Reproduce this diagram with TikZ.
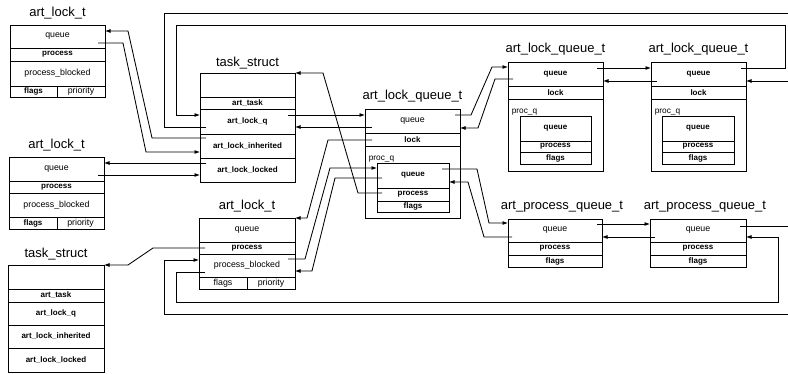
\documentclass[tikz,border=0pt]{standalone}
\usepackage{fontspec}
\setmainfont{Liberation Sans}
\usetikzlibrary{arrows.meta,calc}
\tikzset{
  fld/.style={draw, line width=0.9pt, inner sep=0pt, outer sep=0pt, anchor=north west,
    font=\fontsize{8.8}{10}\selectfont},
  fldb/.style={fld, font=\fontsize{8}{9}\selectfont\bfseries},
  ttl/.style={anchor=base, inner sep=0pt, font=\fontsize{13}{15}\selectfont},
  lbl/.style={anchor=south west, inner sep=0.6pt, font=\fontsize{8.3}{9}\selectfont},
  wire/.style={line width=0.85pt},
  arr/.style={wire, -{Latex[length=5.5pt,width=4pt]}}
}
\begin{document}
\begin{tikzpicture}[x=1pt,y=-1pt]
\useasboundingbox (0,0) rectangle (788,374);

% ---- art_lock_t (top left)
\node[ttl] (a1t) at (57.5,17) {art\_lock\_t};
\node[fld,minimum width=95,minimum height=23] (a1q) at (10,25) {queue};
\node[fldb,minimum width=95,minimum height=13] (a1p) at (10,48) {process};
\node[fld,minimum width=95,minimum height=25] (a1b) at (10,61) {process\_blocked};
\node[fldb,minimum width=47,minimum height=11] (a1f) at (10,86) {flags};
\node[fld,minimum width=48,minimum height=11] (a1r) at (57,86) {priority};

% ---- art_lock_t (middle left)
\node[ttl] (a2t) at (56.5,149) {art\_lock\_t};
\node[fld,minimum width=95,minimum height=24] (a2q) at (9,157) {queue};
\node[fldb,minimum width=95,minimum height=12] (a2p) at (9,181) {process};
\node[fld,minimum width=95,minimum height=24] (a2b) at (9,193) {process\_blocked};
\node[fldb,minimum width=48,minimum height=12] (a2f) at (9,217) {flags};
\node[fld,minimum width=47,minimum height=12] (a2r) at (57,217) {priority};

% ---- task_struct (bottom left)
\node[ttl] (t2t) at (56,258) {task\_struct};
\node[fld,minimum width=96,minimum height=24] (t2e) at (8,265) {};
\node[fldb,minimum width=96,minimum height=13] (t2a) at (8,289) {art\_task};
\node[fldb,minimum width=96,minimum height=23] (t2q) at (8,302) {art\_lock\_q};
\node[fldb,minimum width=96,minimum height=23] (t2i) at (8,325) {art\_lock\_inherited};
\node[fldb,minimum width=96,minimum height=24] (t2l) at (8,348) {art\_lock\_locked};

% ---- task_struct (centre)
\node[ttl] (t1t) at (247.5,67) {task\_struct};
\node[fld,minimum width=95,minimum height=24] (t1e) at (200,73) {};
\node[fldb,minimum width=95,minimum height=12] (t1a) at (200,97) {art\_task};
\node[fldb,minimum width=95,minimum height=25] (t1q) at (200,109) {art\_lock\_q};
\node[fldb,minimum width=95,minimum height=24] (t1i) at (200,134) {art\_lock\_inherited};
\node[fldb,minimum width=95,minimum height=24] (t1l) at (200,158) {art\_lock\_locked};

% ---- art_lock_t (centre bottom)
\node[ttl] (a3t) at (247,210) {art\_lock\_t};
\node[fld,minimum width=96,minimum height=24] (a3q) at (199,218) {queue};
\node[fldb,minimum width=96,minimum height=12] (a3p) at (199,242) {process};
\node[fld,minimum width=96,minimum height=23] (a3b) at (199,254) {process\_blocked};
\node[fld,minimum width=48,minimum height=12] (a3f) at (199,277) {flags};
\node[fld,minimum width=48,minimum height=12] (a3r) at (247,277) {priority};

% ---- art_lock_queue_t (centre)
\node[ttl] (q1t) at (412.5,100) {art\_lock\_queue\_t};
\node[fld,minimum width=95,minimum height=24] (q1q) at (365,109) {queue};
\node[fldb,minimum width=95,minimum height=13] (q1l) at (365,133) {lock};
\node[fld,minimum width=95,minimum height=72] (q1o) at (365,146) {};
\node[lbl] (q1lb) at (368,163) {proc\_q};
\node[fldb,minimum width=72,minimum height=25] (q1iq) at (377,163) {queue};
\node[fldb,minimum width=72,minimum height=13] (q1ip) at (377,188) {process};
\node[fldb,minimum width=72,minimum height=11] (q1if) at (377,201) {flags};

% ---- art_lock_queue_t (right 1)
\node[ttl] (q2t) at (555.5,53) {art\_lock\_queue\_t};
\node[fldb,minimum width=95,minimum height=24] (q2q) at (508,62) {queue};
\node[fldb,minimum width=95,minimum height=13] (q2l) at (508,86) {lock};
\node[fld,minimum width=95,minimum height=72] (q2o) at (508,99) {};
\node[lbl] (q2lb) at (511,116) {proc\_q};
\node[fldb,minimum width=71,minimum height=25] (q2iq) at (520,116) {queue};
\node[fldb,minimum width=71,minimum height=11] (q2ip) at (520,141) {process};
\node[fldb,minimum width=71,minimum height=12] (q2if) at (520,152) {flags};

% ---- art_lock_queue_t (right 2)
\node[ttl] (q3t) at (698.5,53) {art\_lock\_queue\_t};
\node[fldb,minimum width=95,minimum height=24] (q3q) at (651,62) {queue};
\node[fldb,minimum width=95,minimum height=13] (q3l) at (651,86) {lock};
\node[fld,minimum width=95,minimum height=72] (q3o) at (651,99) {};
\node[lbl] (q3lb) at (654,116) {proc\_q};
\node[fldb,minimum width=72,minimum height=25] (q3iq) at (662,116) {queue};
\node[fldb,minimum width=72,minimum height=11] (q3ip) at (662,141) {process};
\node[fldb,minimum width=72,minimum height=12] (q3if) at (662,152) {flags};

% ---- art_process_queue_t (1)
\node[ttl] (p1t) at (562,210) {art\_process\_queue\_t};
\node[fld,minimum width=94,minimum height=23] (p1q) at (508,219) {queue};
\node[fldb,minimum width=94,minimum height=13] (p1p) at (508,242) {process};
\node[fldb,minimum width=94,minimum height=12] (p1f) at (508,255) {flags};

% ---- art_process_queue_t (2)
\node[ttl] (p2t) at (705,210) {art\_process\_queue\_t};
\node[fld,minimum width=96,minimum height=23] (p2q) at (650,219) {queue};
\node[fldb,minimum width=96,minimum height=13] (p2p) at (650,242) {process};
\node[fldb,minimum width=96,minimum height=12] (p2f) at (650,255) {flags};

% ---- off-picture ends
\coordinate (offA) at (788,13);
\coordinate (offB) at (788,81);
\coordinate (offC) at (788,226);
\coordinate (offD) at (788,314);

% ---- connectors
\draw[arr] ($(t1i.north west)+(6,4)$) -- (152,138) -- (128,31) -- ($(a1q.north east)+(0,6)$);
\draw[arr] ($(a1q.north east)+(-7,18)$) -- (123,43) -- (146,152) -- ($(t1i.north west)+(0,18)$);
\draw[wire] ($(t1q.north west)+(6,18)$) -- (164,127) -- (164,13) -- (offA);
\draw[arr] ($(q3q.north east)+(-5,6)$) -- (785,68) -- (785,25) -- (176,25) -- (176,115) -- ($(t1q.north west)+(0,6)$);
\draw[arr] ($(t1l.north west)+(6,5)$) -- ($(a2q.north east)+(0,6)$);
\draw[arr] ($(a2q.north east)+(-6,18)$) -- ($(t1l.north west)+(0,17)$);
\draw[arr] ($(t1q.north east)+(-7,6)$) -- ($(q1q.north west)+(0,6)$);
\draw[arr] ($(q1q.north west)+(7,18)$) -- ($(t1q.north east)+(0,18)$);
\draw[arr] ($(q1ip.north west)+(5,5)$) -- (358,193) -- (323,73) -- (t1e.north east);
\draw[arr] ($(q1l.north west)+(7,7)$) -- (328,140) -- (307,218) -- (a3q.north east);
\draw[arr] ($(a3b.north east)+(-7,5)$) -- (305,259) -- (330,168) -- ($(q1iq.north west)+(0,5)$);
\draw[arr] ($(q1iq.north west)+(5,15)$) -- (335,178) -- (312,271) -- ($(a3b.north east)+(0,17)$);
\draw[arr] ($(q1q.north east)+(-5,6)$) -- (471,115) -- (492,67) -- ($(q2q.north west)+(0,5)$);
\draw[arr] ($(q2q.north west)+(5,17)$) -- (495,79) -- (478,128) -- ($(q1q.north east)+(0,19)$);
\draw[arr] ($(q1iq.north east)+(-7,6)$) -- (477,169) -- (489,223) -- ($(p1q.north west)+(0,4)$);
\draw[arr] ($(p1q.north west)+(4,18)$) -- (484,237) -- (468,182) -- ($(q1iq.north east)+(0,19)$);
\draw[arr] ($(q2q.north east)+(-6,6)$) -- ($(q3q.north west)+(0,6)$);
\draw[arr] ($(q3q.north west)+(6,19)$) -- ($(q2q.north east)+(0,19)$);
\draw[arr] (offB) -- ($(q3q.north east)+(0,19)$);
\draw[arr] ($(p1q.north east)+(-5,5)$) -- ($(p2q.north west)+(0,5)$);
\draw[arr] ($(p2q.north west)+(5,18)$) -- ($(p1q.north east)+(0,18)$);
\draw[wire] ($(p2q.north east)+(-6,7)$) -- (offC);
\draw[arr] ($(a3b.north west)+(6,18)$) -- (176,272) -- (176,302) -- (778,302) -- (778,237) -- ($(p2q.north east)+(0,18)$);
\draw[arr] (offD) -- (164,314) -- (164,260) -- ($(a3b.north west)+(0,6)$);
\draw[arr] ($(a3p.north west)+(6,6)$) -- (153,248) -- (128,265) -- (t2e.north east);
\end{tikzpicture}
\end{document}
